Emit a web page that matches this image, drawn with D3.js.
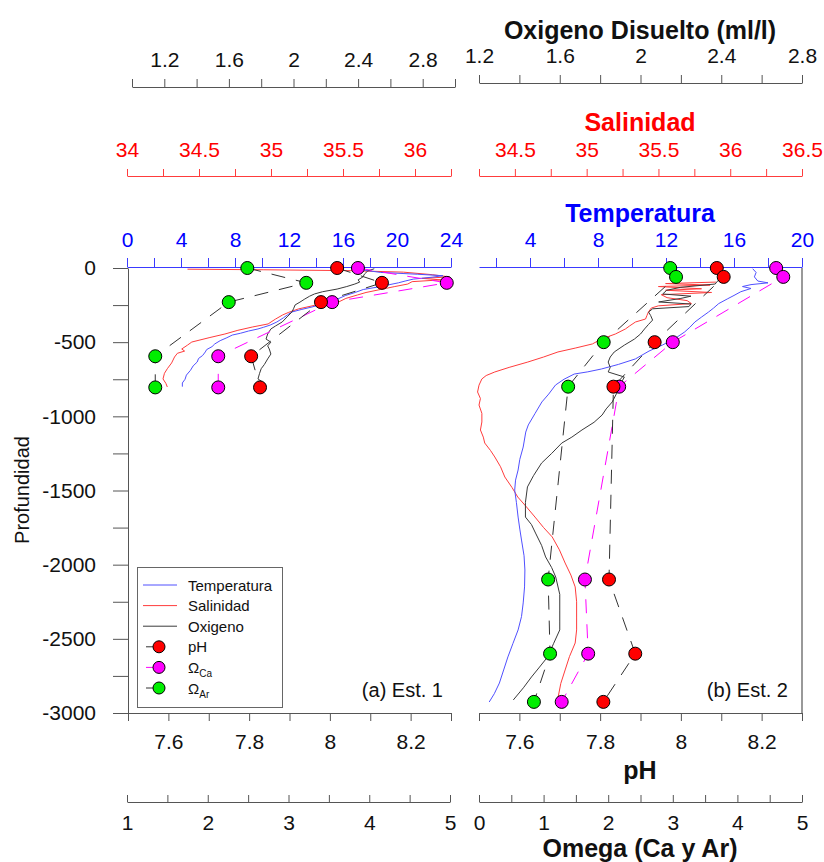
<!DOCTYPE html>
<html>
<head>
<meta charset="utf-8">
<script src="https://cdn.jsdelivr.net/npm/d3@7"></script>
<style>
  body { margin: 0; background: #fff; }
  svg { font-family: "Liberation Sans", Arial, sans-serif; }
</style>
</head>
<body>
<svg id="chart" width="824" height="862"></svg>
<script>
// ---------- Bottle samples (depth in m, negative downward) ----------
const est1Depth   = [0, -100, -230, -595, -805];
const est1PH      = [8.018, 8.129, 7.978, 7.805, 7.827];
const est1OmegaCa = [3.86, 4.96, 3.54, 2.13, 2.13];
const est1OmegaAr = [2.49, 3.22, 2.26, 1.35, 1.35];

const est2Depth   = [0, -60, -500, -800, -2100, -2600, -2925];
const est2PH      = [8.089, 8.106, 7.935, 7.833, 7.822, 7.887, 7.808];
const est2OmegaCa = [4.60, 4.71, 3.00, 2.17, 1.64, 1.69, 1.28];
const est2OmegaAr = [2.96, 3.05, 1.93, 1.38, 1.07, 1.10, 0.85];

// ---------- CTD profiles: [depth, value] ----------
const est1Temp = [[0,17.2],[-15,17.6],[-30,18.8],[-42,21.5],[-52,23.4],[-62,22.6],[-75,21.2],[-88,20.6],[-100,20.1],[-115,19.3],[-128,18.6],[-145,17.5],[-165,16.9],[-185,16.2],[-209,15.6],[-230,14.8],[-250,14.2],[-263,13.7],[-280,12.9],[-297,12.2],[-315,11.9],[-335,11.6],[-364,11.1],[-385,10.6],[-400,10.1],[-411,9.7],[-425,9.0],[-440,8.4],[-452,7.8],[-470,7.4],[-490,6.9],[-512,6.5],[-530,6.3],[-550,5.9],[-566,5.8],[-590,5.6],[-610,5.3],[-634,5.2],[-660,4.9],[-690,4.7],[-722,4.4],[-750,4.3],[-775,4.1],[-800,4.1]];
const est1Sal = [[-8,34.42],[-12,34.95],[-18,35.55],[-28,35.92],[-45,36.12],[-60,36.24],[-70,36.05],[-80,36.18],[-92,35.98],[-108,35.95],[-125,35.86],[-145,35.76],[-165,35.66],[-182,35.60],[-205,35.52],[-229,35.47],[-250,35.31],[-276,35.19],[-300,35.12],[-317,35.08],[-345,35.03],[-377,34.98],[-398,34.87],[-420,34.77],[-445,34.68],[-470,34.57],[-499,34.45],[-520,34.42],[-546,34.38],[-560,34.40],[-575,34.35],[-600,34.33],[-640,34.31],[-679,34.28],[-710,34.26],[-748,34.25],[-778,34.27],[-802,34.28]];
const est1Oxy = [[-5,2.50],[-20,2.46],[-40,2.44],[-60,2.43],[-80,2.40],[-95,2.41],[-108,2.38],[-125,2.33],[-142,2.27],[-160,2.18],[-175,2.13],[-190,2.10],[-209,2.07],[-230,2.04],[-249,2.01],[-275,2.00],[-297,1.99],[-330,1.96],[-364,1.93],[-390,1.89],[-411,1.86],[-445,1.84],[-479,1.83],[-500,1.86],[-525,1.84],[-546,1.85],[-580,1.86],[-613,1.84],[-650,1.82],[-679,1.80],[-710,1.79],[-748,1.78],[-770,1.81],[-790,1.79]];

const est2Temp = [[-5,17.1],[-30,17.3],[-60,17.2],[-88,17.4],[-100,18.0],[-112,17.0],[-125,16.5],[-138,17.0],[-160,16.4],[-185,16.0],[-209,15.6],[-240,15.1],[-270,14.8],[-297,14.5],[-330,14.1],[-364,13.7],[-400,13.4],[-431,13.1],[-470,12.6],[-519,11.8],[-560,11.0],[-613,10.2],[-650,9.2],[-681,8.2],[-700,7.4],[-715,6.6],[-750,6.0],[-789,5.5],[-850,5.1],[-903,4.7],[-980,4.3],[-1058,3.9],[-1106,3.75],[-1207,3.6],[-1290,3.4],[-1362,3.3],[-1430,3.15],[-1497,3.1],[-1580,3.2],[-1679,3.3],[-1760,3.4],[-1834,3.5],[-1940,3.65],[-2036,3.7],[-2150,3.68],[-2258,3.6],[-2350,3.5],[-2440,3.3],[-2530,3.0],[-2622,2.7],[-2710,2.45],[-2798,2.2],[-2870,1.9],[-2926,1.6]];
const est2Sal = [[-95,35.90],[-105,35.55],[-115,35.86],[-125,35.50],[-140,35.80],[-150,35.55],[-165,35.87],[-180,35.52],[-200,35.56],[-220,35.70],[-240,35.73],[-255,35.50],[-270,35.45],[-297,35.43],[-320,35.42],[-344,35.41],[-364,35.34],[-390,35.30],[-411,35.27],[-445,35.20],[-480,35.10],[-512,35.04],[-540,34.92],[-566,34.80],[-600,34.70],[-634,34.59],[-670,34.46],[-701,34.36],[-725,34.30],[-748,34.27],[-790,34.25],[-836,34.24],[-880,34.26],[-924,34.25],[-980,34.27],[-1038,34.27],[-1092,34.26],[-1140,34.28],[-1180,34.29],[-1230,34.33],[-1274,34.36],[-1340,34.40],[-1409,34.43],[-1480,34.48],[-1544,34.52],[-1610,34.58],[-1679,34.64],[-1750,34.70],[-1813,34.76],[-1900,34.81],[-1989,34.85],[-2070,34.89],[-2150,34.92],[-2250,34.93],[-2353,34.93],[-2440,34.93],[-2528,34.92],[-2620,34.88],[-2710,34.85],[-2800,34.82],[-2899,34.80]];
const est2Oxy = [[-74,2.40],[-90,2.38],[-108,2.37],[-130,2.20],[-150,2.13],[-175,2.11],[-190,2.25],[-205,2.20],[-229,2.09],[-243,2.25],[-260,2.24],[-275,2.06],[-297,2.04],[-320,2.05],[-351,2.06],[-380,2.04],[-411,2.02],[-445,2.00],[-479,1.97],[-520,1.92],[-566,1.87],[-600,1.85],[-634,1.84],[-670,1.85],[-701,1.84],[-735,1.92],[-760,1.91],[-789,1.91],[-850,1.88],[-903,1.86],[-950,1.83],[-991,1.81],[-1040,1.77],[-1092,1.71],[-1140,1.66],[-1180,1.61],[-1250,1.56],[-1315,1.51],[-1400,1.47],[-1476,1.44],[-1580,1.43],[-1679,1.43],[-1730,1.46],[-1787,1.48],[-1870,1.51],[-1948,1.53],[-2020,1.56],[-2083,1.58],[-2200,1.60],[-2306,1.60],[-2380,1.60],[-2440,1.60],[-2530,1.57],[-2622,1.54],[-2690,1.50],[-2757,1.46],[-2830,1.42],[-2912,1.37]];

// ---------- Tick values and labels ----------
const depthTicks  = [0,-250,-500,-750,-1000,-1250,-1500,-1750,-2000,-2250,-2500,-2750,-3000];
const depthLabels = [0,-500,-1000,-1500,-2000,-2500,-3000];

const temp1Ticks  = [0,2,4,6,8,10,12,14,16,18,20,22,24];
const temp1Labels = [0,4,8,12,16,20,24];
const temp2Ticks  = [2,4,6,8,10,12,14,16,18,20];
const temp2Labels = [4,8,12,16,20];

const sal1Ticks  = [34,34.25,34.5,34.75,35,35.25,35.5,35.75,36,36.25];
const sal1Labels = [34,34.5,35,35.5,36];
const sal2Ticks  = [34.25,34.5,34.75,35,35.25,35.5,35.75,36,36.25,36.5];
const sal2Labels = [34.5,35,35.5,36,36.5];

const oxy1Ticks  = [1,1.2,1.4,1.6,1.8,2,2.2,2.4,2.6,2.8,3];
const oxy1Labels = [1.2,1.6,2,2.4,2.8];
const oxy2Ticks  = [1.2,1.4,1.6,1.8,2,2.2,2.4,2.6,2.8];
const oxy2Labels = [1.2,1.6,2,2.4,2.8];

const phTicks  = [7.5,7.6,7.7,7.8,7.9,8,8.1,8.2,8.3];
const phLabels = [7.6,7.8,8,8.2];

const omega1Ticks  = [1,1.5,2,2.5,3,3.5,4,4.5,5];
const omega1Labels = [1,2,3,4,5];
const omega2Ticks  = [0,0.5,1,1.5,2,2.5,3,3.5,4,4.5,5];
const omega2Labels = [0,1,2,3,4,5];

// ---------- Colours ----------
const C = {
  temp: "#5050ff", tempText: "#0000ff",
  sal: "#ff3c3c", salText: "#ff0000",
  oxy: "#3a3a3a", axis: "#555555",
  ph: "#ff0000", ca: "#ff00ff", ar: "#00ee00"
};
const TICK_FONT = 21;

const svg = d3.select("#chart");

// depth scale shared by both panels
const y = d3.scaleLinear().domain([0, -3000]).range([268, 713]);

const panels = [
  {
    name: "(a) Est. 1", nameX: 443,
    depth: est1Depth, ph: est1PH, ca: est1OmegaCa, ar: est1OmegaAr,
    temp: est1Temp, sal: est1Sal, oxy: est1Oxy,
    xT: d3.scaleLinear().domain([0, 24]).range([127, 451]),
    xS: d3.scaleLinear().domain([34, 36.25]).range([127, 451]),
    xO: d3.scaleLinear().domain([1, 3]).range([132, 455]),
    xP: d3.scaleLinear().domain([7.5, 8.3]).range([128, 451]),
    xW: d3.scaleLinear().domain([1, 5]).range([127, 450]),
    tT: [temp1Ticks, temp1Labels], tS: [sal1Ticks, sal1Labels], tO: [oxy1Ticks, oxy1Labels],
    tW: [omega1Ticks, omega1Labels], oxyY: 87
  },
  {
    name: "(b) Est. 2", nameX: 788,
    depth: est2Depth, ph: est2PH, ca: est2OmegaCa, ar: est2OmegaAr,
    temp: est2Temp, sal: est2Sal, oxy: est2Oxy,
    xT: d3.scaleLinear().domain([1, 20]).range([479, 802]),
    xS: d3.scaleLinear().domain([34.25, 36.5]).range([479, 802]),
    xO: d3.scaleLinear().domain([1.2, 2.8]).range([479, 802]),
    xP: d3.scaleLinear().domain([7.5, 8.3]).range([479, 802]),
    xW: d3.scaleLinear().domain([0, 5]).range([479, 802]),
    tT: [temp2Ticks, temp2Labels], tS: [sal2Ticks, sal2Labels], tO: [oxy2Ticks, oxy2Labels],
    tW: [omega2Ticks, omega2Labels], oxyY: 83
  }
];

const hasLabel = (labels) => (d) => labels.some(v => Math.abs(v - d) < 1e-9) ? String(+d.toFixed(2)) : "";

function styleAxis(g, lineColor, textColor, fontSize) {
  g.select(".domain").attr("stroke", lineColor).attr("stroke-width", 1);
  g.selectAll(".tick line").attr("stroke", lineColor).attr("stroke-width", 1);
  g.selectAll(".tick text").attr("fill", textColor).attr("font-size", fontSize)
    .attr("font-family", '"Liberation Sans", Arial, sans-serif');
}

panels.forEach(p => {
  // ----- top axes -----
  const gO = svg.append("g").attr("transform", `translate(0,${p.oxyY})`)
    .call(d3.axisTop(p.xO).tickValues(p.tO[0]).tickFormat(hasLabel(p.tO[1]))
      .tickSizeInner(8).tickSizeOuter(0).tickPadding(12));
  styleAxis(gO, C.axis, "#111", TICK_FONT);

  const gS = svg.append("g").attr("transform", "translate(0,176)")
    .call(d3.axisTop(p.xS).tickValues(p.tS[0]).tickFormat(hasLabel(p.tS[1]))
      .tickSizeInner(7).tickSizeOuter(0).tickPadding(12));
  styleAxis(gS, C.sal, C.salText, TICK_FONT);

  const gT = svg.append("g").attr("transform", "translate(0,267)")
    .call(d3.axisTop(p.xT).tickValues(p.tT[0]).tickFormat(hasLabel(p.tT[1]))
      .tickSizeInner(9).tickSizeOuter(0).tickPadding(11));
  styleAxis(gT, "#3a3aff", C.tempText, TICK_FONT);

  // ----- bottom axes -----
  const gP = svg.append("g").attr("transform", "translate(0,713)")
    .call(d3.axisBottom(p.xP).tickValues(phTicks).tickFormat(hasLabel(phLabels))
      .tickSizeInner(8).tickSizeOuter(0).tickPadding(13));
  styleAxis(gP, C.axis, "#111", TICK_FONT);

  const gW = svg.append("g").attr("transform", "translate(0,802)")
    .call(d3.axisBottom(p.xW).tickValues(p.tW[0]).tickFormat(hasLabel(p.tW[1]))
      .tickSizeInner(-7).tickSizeOuter(0).tickPadding(13));
  styleAxis(gW, C.axis, "#111", TICK_FONT);

  // ----- CTD profiles -----
  const prof = (data, xs, color) => svg.append("path")
    .datum(data)
    .attr("fill", "none").attr("stroke", color).attr("stroke-width", 1)
    .attr("stroke-linejoin", "round")
    .attr("d", d3.line().x(d => xs(d[1])).y(d => y(d[0])));
  prof(p.sal, p.xS, C.sal);
  prof(p.temp, p.xT, C.temp);
  prof(p.oxy, p.xO, C.oxy);

  // ----- bottle samples: dashed connectors then markers -----
  const series = [
    { vals: p.ar, xs: p.xW, fill: C.ar, dash: "#333" },
    { vals: p.ca, xs: p.xW, fill: C.ca, dash: C.ca },
    { vals: p.ph, xs: p.xP, fill: C.ph, dash: "#333" }
  ];
  series.forEach(s => {
    const pts = s.vals.map((v, i) => [s.xs(v), y(p.depth[i])]);
    svg.append("path").datum(pts)
      .attr("fill", "none").attr("stroke", s.dash).attr("stroke-width", 1)
      .attr("stroke-dasharray", "14,11")
      .attr("d", d3.line());
  });
  series.forEach(s => {
    svg.append("g").selectAll("circle").data(s.vals).join("circle")
      .attr("cx", d => s.xs(d)).attr("cy", (d, i) => y(p.depth[i]))
      .attr("r", 6.5).attr("fill", s.fill).attr("stroke", "#000").attr("stroke-width", 1);
  });

  // station label
  svg.append("text").attr("x", p.nameX).attr("y", 697).attr("text-anchor", "end")
    .attr("font-size", 20).attr("fill", "#111").text(p.name);
});

// depth axis on the left panel
const gY = svg.append("g").attr("transform", "translate(128,0)")
  .call(d3.axisLeft(y).tickValues(depthTicks).tickFormat(hasLabel(depthLabels))
    .tickSizeInner(15).tickSizeOuter(0).tickPadding(17));
styleAxis(gY, C.axis, "#111", TICK_FONT);

// right frame of the second panel
svg.append("line").attr("x1", 802).attr("x2", 802).attr("y1", 268).attr("y2", 713)
  .attr("stroke", "#777").attr("stroke-width", 1.5);

// ----- titles -----
const title = (txt, x, yy, color) => svg.append("text")
  .attr("x", x).attr("y", yy).attr("text-anchor", "middle")
  .attr("font-size", 25).attr("font-weight", "bold").attr("fill", color).text(txt);
title("Oxigeno Disuelto (ml/l)", 640, 39, "#111");
title("Salinidad", 640, 131, C.salText);
title("Temperatura", 640, 222, C.tempText);
title("pH", 640, 779, "#111");
title("Omega (Ca y Ar)", 640, 857, "#111");

svg.append("text").attr("transform", "translate(29,490) rotate(-90)")
  .attr("text-anchor", "middle").attr("font-size", 20).attr("fill", "#111").text("Profundidad");

// ----- legend -----
const lg = svg.append("g");
lg.append("rect").attr("x", 137.5).attr("y", 567.5).attr("width", 145).attr("height", 140)
  .attr("fill", "#fff").attr("stroke", "#666").attr("stroke-width", 1);
const legendItems = [
  { label: "Temperatura", color: C.temp, type: "line" },
  { label: "Salinidad", color: C.sal, type: "line" },
  { label: "Oxigeno", color: C.oxy, type: "line" },
  { label: "pH", color: C.ph, type: "dot", lc: "#333" },
  { label: "Ω", sub: "Ca", color: C.ca, type: "dot", lc: C.ca },
  { label: "Ω", sub: "Ar", color: C.ar, type: "dot", lc: "#333" }
];
legendItems.forEach((it, i) => {
  const yy = 585 + i * 20.6;
  if (it.type === "line") {
    lg.append("line").attr("x1", 143).attr("x2", 177).attr("y1", yy).attr("y2", yy)
      .attr("stroke", it.color).attr("stroke-width", 1);
  } else {
    lg.append("line").attr("x1", 146).attr("x2", 159).attr("y1", yy).attr("y2", yy)
      .attr("stroke", it.lc).attr("stroke-width", 1);
    lg.append("circle").attr("cx", 159).attr("cy", yy).attr("r", 6)
      .attr("fill", it.color).attr("stroke", "#000").attr("stroke-width", 1);
  }
  const t = lg.append("text").attr("x", 188).attr("y", yy + 5.5).attr("font-size", 15).attr("fill", "#111");
  t.append("tspan").text(it.label);
  if (it.sub) t.append("tspan").attr("font-size", 10).attr("dy", 4).text(it.sub);
});
</script>
</body>
</html>
